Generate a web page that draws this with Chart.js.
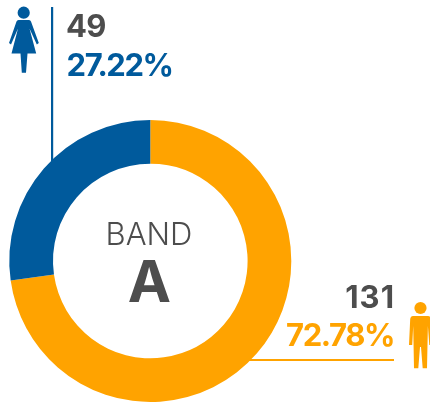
<!DOCTYPE html>
<html><head><meta charset="utf-8">
<style>html,body{margin:0;padding:0;background:#fff}canvas{display:block}</style>
<script src="https://cdn.jsdelivr.net/npm/chart.js@4"></script></head>
<body><canvas id="c" width="430" height="403"></canvas>
<script>
const categories = ["Male", "Female"];
const counts = [131, 49];
const percentLabels = ["72.78%", "27.22%"];
const colors = ["#ffa300", "#005a9c"];
const centerLabels = ["BAND", "A"];
const GREY = "#4d4d4d";

function woman(ctx, color) {
  ctx.fillStyle = color;
  ctx.beginPath(); ctx.arc(23.7, 12.7, 6.1, 0, Math.PI * 2); ctx.fill();
  ctx.beginPath();
  ctx.moveTo(18.5, 20); ctx.lineTo(29, 20);
  ctx.quadraticCurveTo(30.5, 20, 31, 21.5);
  ctx.lineTo(38.8, 43); ctx.lineTo(36.8, 44.5); ctx.lineTo(29.5, 28.5);
  ctx.lineTo(36.2, 53.5); ctx.lineTo(27.5, 53.5); ctx.lineTo(26, 72.8); ctx.lineTo(21.8, 72.8); ctx.lineTo(20.5, 53.5);
  ctx.lineTo(11.5, 53.5); ctx.lineTo(18, 28.5);
  ctx.lineTo(11, 44.5); ctx.lineTo(9, 43);
  ctx.lineTo(16.5, 21.5);
  ctx.quadraticCurveTo(17, 20, 18.5, 20);
  ctx.closePath(); ctx.fill();
}
function man(ctx, color) {
  ctx.fillStyle = color;
  ctx.beginPath(); ctx.arc(420.5, 308, 6.1, 0, Math.PI * 2); ctx.fill();
  ctx.beginPath();
  ctx.moveTo(413, 316); ctx.lineTo(428, 316);
  ctx.quadraticCurveTo(430.5, 316, 431, 319);
  ctx.lineTo(432, 345); ctx.lineTo(429.3, 345); ctx.lineTo(427.9, 326);
  ctx.lineTo(427, 368.3); ctx.lineTo(422.7, 368.3); ctx.lineTo(421, 347); ctx.lineTo(420, 347);
  ctx.lineTo(418.3, 368.3); ctx.lineTo(414, 368.3); ctx.lineTo(413.2, 326);
  ctx.lineTo(412.2, 345); ctx.lineTo(409, 345); ctx.lineTo(410.2, 319);
  ctx.quadraticCurveTo(410.7, 316, 413, 316);
  ctx.closePath(); ctx.fill();
}
const annotations = {
  id: "annotations",
  beforeDatasetsDraw(chart) {
    const ctx = chart.ctx;
    ctx.save();
    ctx.fillStyle = colors[1];
    ctx.fillRect(51, 7, 2.2, 155);
    ctx.fillStyle = colors[0];
    ctx.fillRect(245, 359, 149, 2);
    ctx.restore();
  },
  afterDatasetsDraw(chart) {
    const ctx = chart.ctx;
    ctx.save();
    woman(ctx, colors[1]);
    man(ctx, colors[0]);
    ctx.textBaseline = "alphabetic";
    ctx.font = "700 31px Inter, sans-serif";
    ctx.textAlign = "left";
    ctx.letterSpacing = "-0.6px";
    ctx.fillStyle = GREY; ctx.fillText(String(counts[1]), 66, 37);
    ctx.letterSpacing = "-1.4px";
    ctx.fillStyle = colors[1]; ctx.fillText(percentLabels[1], 66.5, 76);
    ctx.textAlign = "right";
    ctx.letterSpacing = "1px";
    ctx.fillStyle = GREY; ctx.fillText(String(counts[0]), 395, 308);
    ctx.letterSpacing = "-1.4px";
    ctx.fillStyle = colors[0]; ctx.fillText(percentLabels[0], 394, 346);
    ctx.letterSpacing = "0px";
    ctx.textAlign = "center";
    ctx.fillStyle = GREY;
    ctx.font = "300 31px Inter, sans-serif";
    ctx.fillText(centerLabels[0], 149, 245);
    ctx.font = "700 58px Inter, sans-serif";
    ctx.fillText(centerLabels[1], 149.5, 302);
    ctx.restore();
  }
};
new Chart(document.getElementById("c"), {
  type: "doughnut",
  data: { labels: categories, datasets: [{ data: counts, backgroundColor: colors, borderWidth: 0 }] },
  options: {
    responsive: false, animation: false, cutout: "69%",
    layout: { padding: { left: 9.3, right: 138.7, top: 120, bottom: 1 } },
    plugins: { legend: { display: false }, tooltip: { enabled: false } }
  },
  plugins: [annotations]
});
</script></body></html>
